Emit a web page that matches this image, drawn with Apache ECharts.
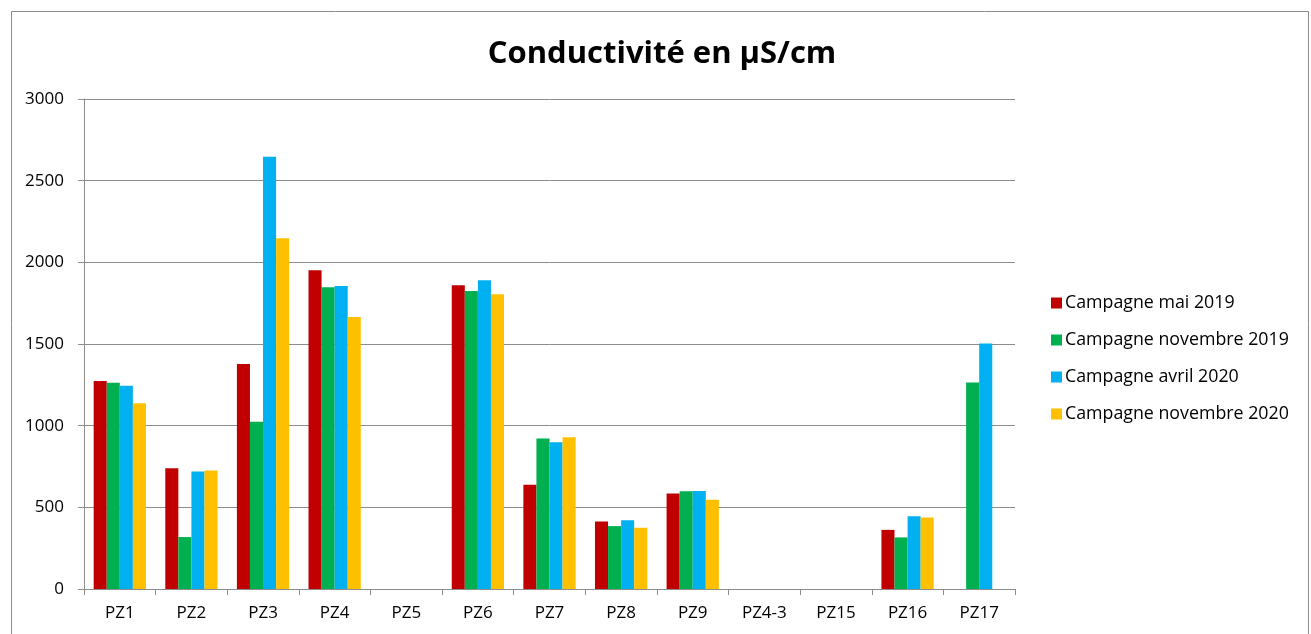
<!DOCTYPE html>
<html>
<head>
    <meta charset="utf-8">
    <title>Conductivité en µS/cm</title>
    <script src="https://cdn.jsdelivr.net/npm/echarts@6/dist/echarts.min.js"></script>
    <style type="text/css">
        html, body { margin: 0; padding: 0; background: #ffffff; }
        #chart { width: 1311px; height: 634px; }
    </style>
</head>
<body>
<div id="chart"></div>
<script>
    // points de mesure
    var categories = ['PZ1', 'PZ2', 'PZ3', 'PZ4', 'PZ5', 'PZ6', 'PZ7', 'PZ8', 'PZ9', 'PZ4-3', 'PZ15', 'PZ16', 'PZ17'];
    var seriesNames = ['Campagne mai 2019', 'Campagne novembre 2019', 'Campagne avril 2020', 'Campagne novembre 2020'];
    var colors = ['#C00000', '#00B050', '#00B0F0', '#FFC000'];

    var mai2019 = [1273, 739, 1378, 1951, null, 1859, 639, 413, 584, null, null, 362, null];
    var nov2019 = [1262, 318, 1024, 1847, null, 1825, 922, 385, 599, null, null, 316, 1265];
    var avr2020 = [1244, 719, 2646, 1855, null, 1890, 898, 421, 600, null, null, 446, 1503];
    var nov2020 = [1138, 725, 2148, 1666, null, 1804, 929, 375, 547, null, null, 438, null];

    var yTicks = [0, 500, 1000, 1500, 2000, 2500, 3000];

    var allData = [mai2019, nov2019, avr2020, nov2020];
    var font = '"Open Sans", Lato, sans-serif';

    var chart = echarts.init(document.getElementById('chart'));
    var option = {
        animation: false,
        textStyle: {fontFamily: font},
        color: colors,
        title: {
            text: 'Conductivité en µS/cm',
            left: 657,
            textAlign: 'center',
            top: 34,
            textStyle: {fontSize: 31, fontWeight: 'bold', color: '#000', fontFamily: font}
        },
        graphic: [{
            type: 'rect',
            shape: {x: 11.5, y: 11.5, width: 1297, height: 640},
            style: {fill: 'none', stroke: '#8c8c8c', lineWidth: 1},
            silent: true
        }],
        legend: {
            orient: 'vertical',
            left: 1046,
            top: 289,
            itemWidth: 11,
            itemHeight: 11,
            itemGap: 19,
            icon: 'rect',
            data: seriesNames,
            textStyle: {fontSize: 17.8, color: '#000', fontFamily: font, padding: [0, 0, 0, -2]}
        },
        grid: {left: 84, right: 296, top: 99, bottom: 45, containLabel: false},
        xAxis: {
            type: 'category',
            data: categories,
            axisLine: {lineStyle: {color: '#8c8c8c'}},
            axisTick: {show: true, length: 6, lineStyle: {color: '#8c8c8c'}},
            axisLabel: {margin: 16, fontSize: 17, color: '#000', fontFamily: font}
        },
        yAxis: {
            type: 'value',
            min: yTicks[0],
            max: yTicks[yTicks.length - 1],
            interval: 500,
            axisLine: {show: true, lineStyle: {color: '#8c8c8c'}},
            axisTick: {show: true, length: 6, lineStyle: {color: '#8c8c8c'}},
            axisLabel: {
                margin: 20, fontSize: 17, color: '#000', fontFamily: font,
                formatter: function (v) { return String(v); }
            },
            splitLine: {lineStyle: {color: '#8c8c8c'}}
        },
        series: seriesNames.map(function (name, i) {
            return {
                name: name,
                type: 'bar',
                data: allData[i],
                barGap: '0%',
                barCategoryGap: '27%',
                itemStyle: {color: colors[i]}
            };
        })
    };
    chart.setOption(option);
</script>
</body>
</html>
